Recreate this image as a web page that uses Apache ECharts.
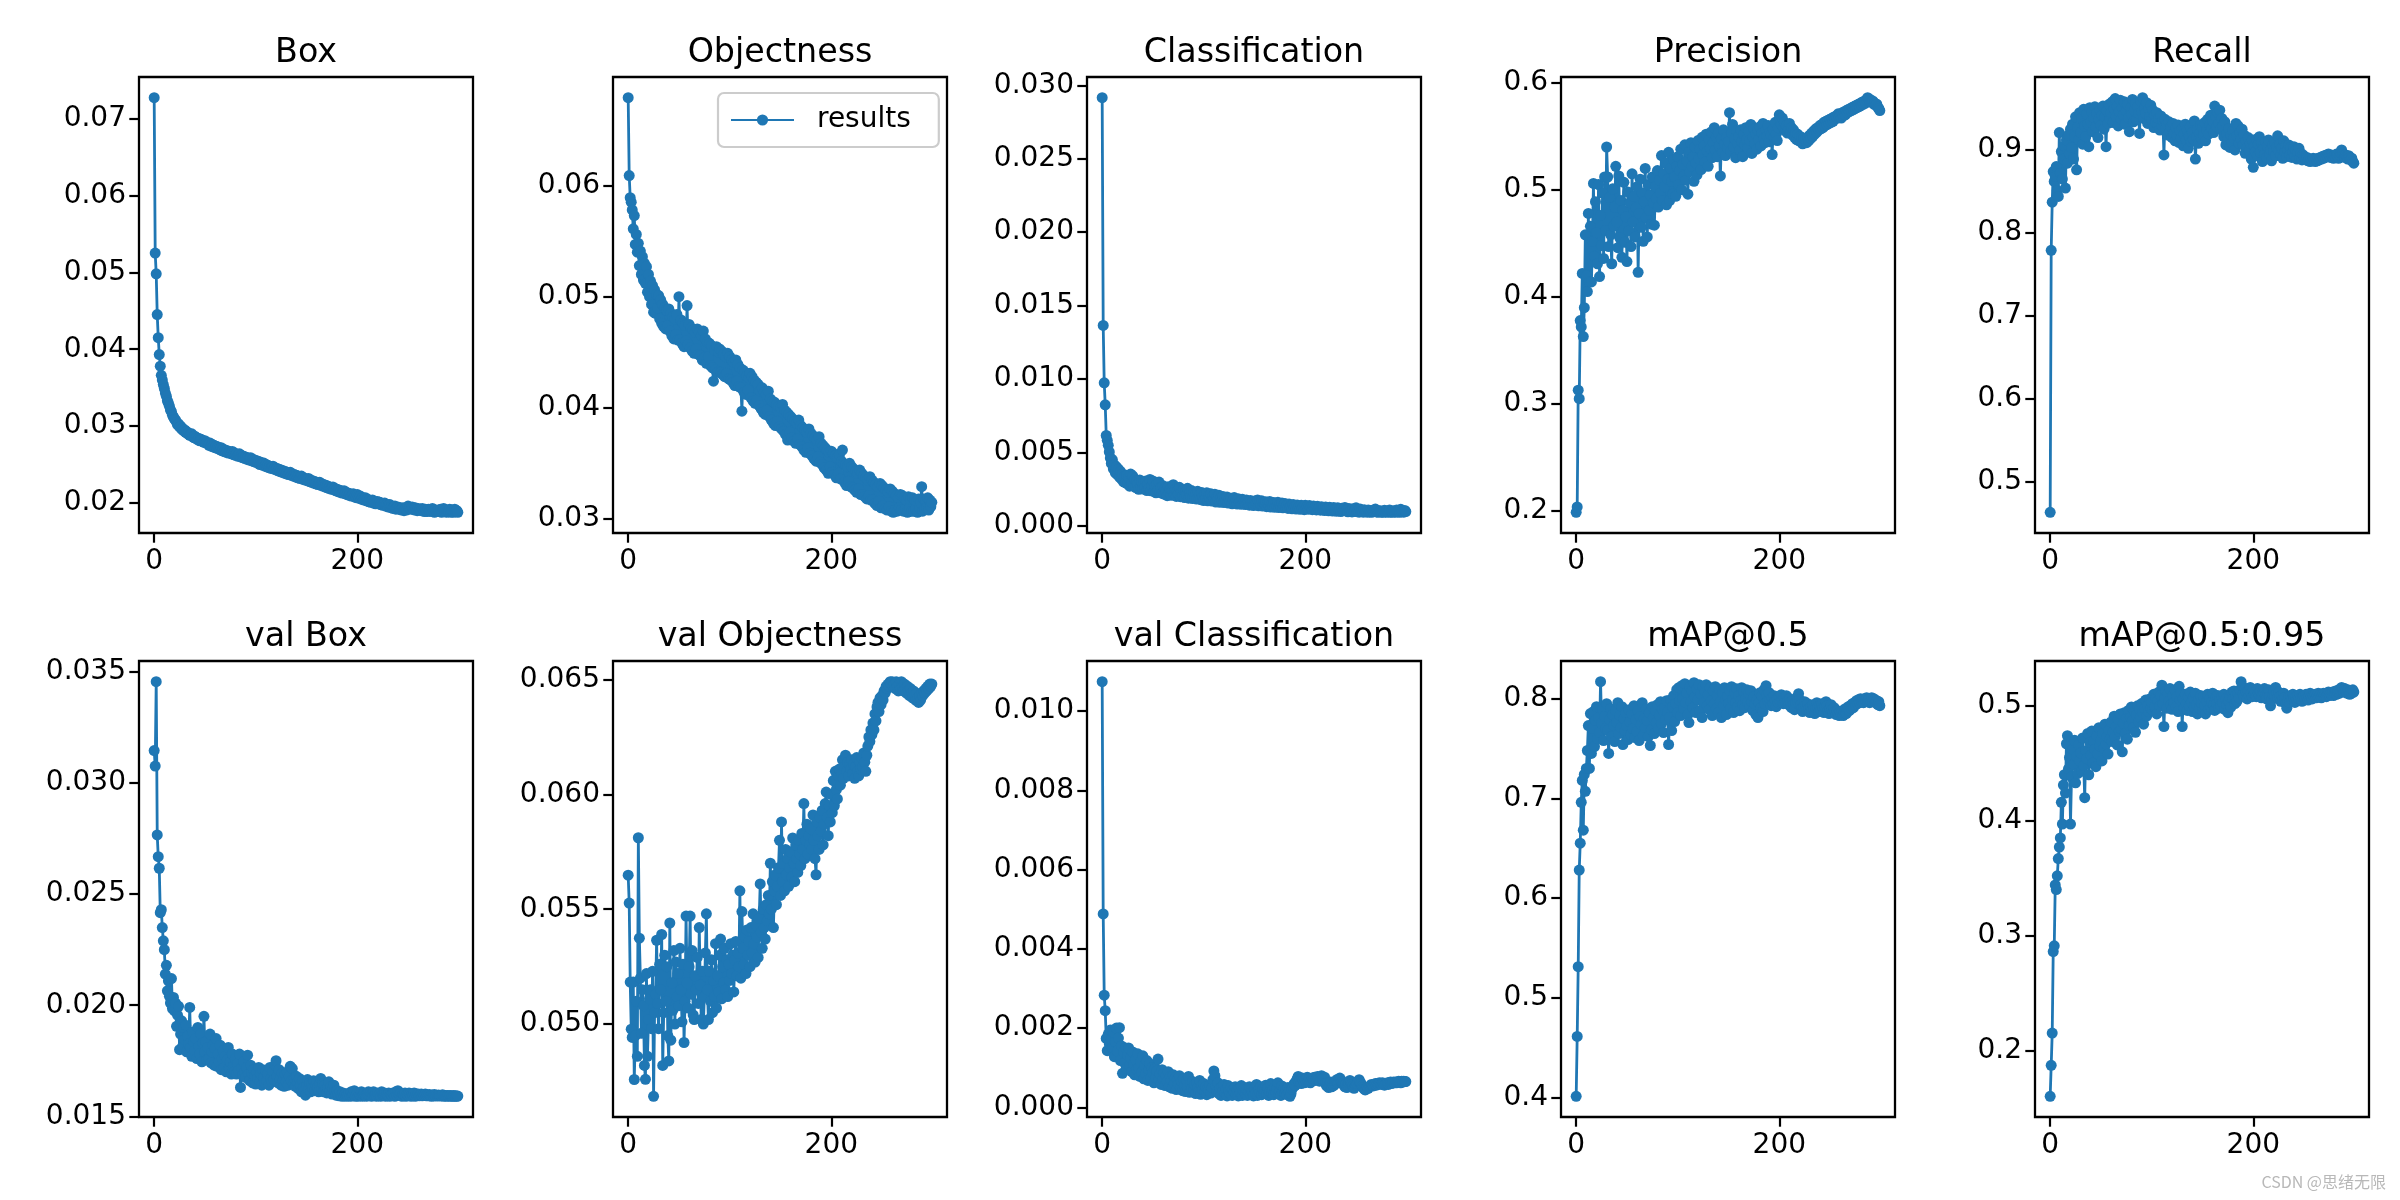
<!DOCTYPE html>
<html><head><meta charset="utf-8">
<script src="https://cdn.jsdelivr.net/npm/echarts@6/dist/echarts.min.js"></script>
<style>html,body{margin:0;padding:0;background:#fff}#c{width:2400px;height:1200px}</style>
</head><body><div id="c"></div>
<script>
const boxLoss = [
.0727,.0525,.0498,.0445,.0415,.0393,.0378,.0366,.0360,.0354,
.0349,.0343,.0339,.0333,.0330,.0326,.0321,.0319,.0314,.0312,
.0309,.0308,.0305,.0302,.0303,.0299,.0300,.0296,.0297,.0294,
.0295,.0292,.0293,.0290,.0291,.0288,.0289,.0290,.0286,.0285,
.0287,.0284,.0285,.0282,.0284,.0281,.0283,.0282,.0280,.0279,
.0281,.0278,.0279,.0277,.0275,.0278,.0274,.0276,.0273,.0275,
.0272,.0274,.0271,.0273,.0270,.0269,.0272,.0268,.0270,.0267,
.0269,.0266,.0268,.0265,.0267,.0266,.0264,.0267,.0263,.0265,
.0262,.0264,.0261,.0263,.0264,.0260,.0262,.0259,.0261,.0258,
.0260,.0257,.0259,.0256,.0258,.0259,.0255,.0257,.0254,.0256,
.0253,.0255,.0252,.0254,.0250,.0253,.0251,.0249,.0252,.0248,
.0250,.0247,.0249,.0246,.0248,.0245,.0247,.0248,.0244,.0246,
.0243,.0245,.0242,.0244,.0241,.0243,.0240,.0242,.0239,.0241,
.0238,.0240,.0237,.0239,.0240,.0236,.0238,.0235,.0237,.0234,
.0236,.0233,.0235,.0232,.0234,.0235,.0231,.0233,.0230,.0232,
.0231,.0229,.0232,.0228,.0230,.0227,.0229,.0226,.0228,.0225,
.0227,.0224,.0226,.0227,.0223,.0225,.0222,.0224,.0221,.0223,
.0220,.0222,.0219,.0221,.0218,.0220,.0221,.0217,.0219,.0216,
.0218,.0215,.0217,.0214,.0216,.0213,.0215,.0216,.0212,.0214,
.0211,.0213,.0210,.0212,.0209,.0211,.0212,.0208,.0210,.0207,
.0211,.0208,.0206,.0209,.0205,.0207,.0204,.0206,.0207,.0203,
.0205,.0202,.0204,.0201,.0203,.0204,.0200,.0202,.0199,.0201,
.0202,.0199,.0201,.0198,.0200,.0197,.0199,.0200,.0196,.0198,
.0195,.0197,.0198,.0194,.0196,.0193,.0195,.0196,.0192,.0194,
.0195,.0192,.0194,.0191,.0193,.0194,.0190,.0192,.0193,.0191,
.0196,.0193,.0194,.0192,.0195,.0193,.0191,.0194,.0192,.0190,
.0193,.0191,.0192,.0190,.0193,.0191,.0189,.0192,.0190,.0189,
.0192,.0190,.0191,.0189,.0193,.0190,.0188,.0191,.0189,.0190,
.0191,.0189,.0192,.0188,.0190,.0193,.0189,.0191,.0188,.0190,
.0189,.0192,.0188,.0191,.0189,.0188,.0192,.0189,.0190,.0188];

const objLoss = [
.0679,.0609,.0589,.0585,.0578,.0561,.0573,.0547,.0556,.0540,
.0548,.0528,.0541,.0520,.0536,.0515,.0530,.0512,.0527,.0504,
.0520,.0500,.0514,.0493,.0510,.0486,.0506,.0485,.0502,.0490,
.0501,.0480,.0497,.0476,.0493,.0473,.0490,.0471,.0488,.0474,
.0489,.0469,.0485,.0465,.0482,.0462,.0480,.0466,.0484,.0461,
.0500,.0461,.0479,.0458,.0476,.0455,.0474,.0460,.0492,.0457,
.0475,.0454,.0472,.0451,.0470,.0449,.0468,.0453,.0471,.0448,
.0468,.0447,.0465,.0443,.0469,.0445,.0462,.0440,.0459,.0446,
.0458,.0438,.0456,.0436,.0424,.0452,.0434,.0455,.0432,.0450,
.0453,.0432,.0451,.0430,.0448,.0428,.0446,.0431,.0449,.0426,
.0446,.0425,.0443,.0423,.0441,.0420,.0443,.0424,.0439,.0419,
.0436,.0418,.0397,.0434,.0414,.0432,.0412,.0429,.0416,.0427,
.0431,.0409,.0428,.0406,.0425,.0404,.0423,.0407,.0421,.0402,
.0415,.0399,.0418,.0396,.0414,.0394,.0412,.0398,.0415,.0392,
.0408,.0389,.0406,.0386,.0405,.0384,.0403,.0388,.0401,.0383,
.0400,.0381,.0403,.0379,.0398,.0376,.0396,.0371,.0394,.0378,
.0392,.0373,.0390,.0370,.0388,.0368,.0386,.0372,.0389,.0367,
.0384,.0365,.0382,.0362,.0380,.0360,.0378,.0364,.0381,.0359,
.0377,.0357,.0375,.0354,.0373,.0352,.0371,.0356,.0374,.0351,
.0368,.0349,.0366,.0346,.0364,.0344,.0362,.0341,.0360,.0347,
.0361,.0342,.0359,.0340,.0357,.0337,.0355,.0341,.0358,.0336,
.0352,.0362,.0350,.0333,.0349,.0330,.0347,.0334,.0350,.0329,
.0347,.0328,.0345,.0326,.0343,.0324,.0341,.0327,.0344,.0322,
.0341,.0322,.0339,.0320,.0337,.0318,.0335,.0321,.0338,.0317,
.0335,.0317,.0333,.0314,.0331,.0312,.0329,.0316,.0332,.0310,
.0330,.0312,.0328,.0309,.0326,.0308,.0324,.0311,.0327,.0307,
.0325,.0306,.0323,.0308,.0321,.0307,.0319,.0310,.0322,.0308,
.0321,.0307,.0319,.0309,.0317,.0306,.0320,.0310,.0318,.0307,
.0319,.0307,.0317,.0309,.0316,.0306,.0318,.0310,.0315,.0329,
.0307,.0318,.0309,.0316,.0310,.0319,.0308,.0317,.0311,.0315];

const clsLoss = [
.02916,.01365,.00974,.00824,.00615,.00582,.00548,.00503,.00462,.00425,
.00451,.00388,.00415,.00360,.00402,.00348,.00385,.00332,.00370,.00318,
.00352,.00300,.00338,.00292,.00345,.00285,.00328,.00270,.00352,.00288,
.00340,.00272,.00318,.00260,.00305,.00282,.00248,.00312,.00265,.00298,
.00250,.00296,.00262,.00305,.00240,.00284,.00255,.00316,.00238,.00275,
.00305,.00232,.00270,.00225,.00282,.00240,.00298,.00228,.00262,.00220,
.00272,.00215,.00258,.00236,.00205,.00266,.00222,.00250,.00208,.00245,
.00280,.00210,.00248,.00200,.00238,.00215,.00262,.00198,.00232,.00205,
.00245,.00192,.00230,.00210,.00255,.00188,.00222,.00198,.00240,.00185,
.00228,.00195,.00218,.00182,.00235,.00190,.00212,.00178,.00226,.00196,
.00172,.00215,.00186,.00225,.00170,.00205,.00182,.00218,.00168,.00200,
.00185,.00215,.00162,.00198,.00176,.00208,.00160,.00192,.00172,.00200,
.00158,.00190,.00168,.00196,.00155,.00182,.00164,.00188,.00150,.00178,
.00192,.00156,.00176,.00148,.00184,.00160,.00172,.00146,.00180,.00158,
.00170,.00145,.00176,.00152,.00165,.00140,.00172,.00150,.00162,.00138,
.00168,.00145,.00158,.00176,.00136,.00160,.00142,.00170,.00134,.00156,
.00148,.00164,.00130,.00152,.00140,.00166,.00128,.00150,.00138,.00158,
.00126,.00150,.00135,.00160,.00124,.00146,.00132,.00155,.00122,.00142,
.00152,.00125,.00140,.00118,.00148,.00128,.00138,.00116,.00145,.00126,
.00135,.00114,.00142,.00122,.00132,.00112,.00140,.00120,.00130,.00110,
.00140,.00120,.00132,.00112,.00138,.00122,.00128,.00110,.00135,.00118,
.00128,.00108,.00133,.00115,.00124,.00106,.00130,.00114,.00121,.00104,
.00128,.00110,.00120,.00102,.00126,.00108,.00117,.00100,.00124,.00107,
.00115,.00099,.00122,.00105,.00112,.00097,.00120,.00103,.00110,.00125,
.00101,.00108,.00095,.00118,.00099,.00106,.00094,.00116,.00097,.00104,
.00122,.00096,.00103,.00093,.00114,.00097,.00101,.00093,.00110,.00095,
.00100,.00093,.00108,.00094,.00098,.00092,.00106,.00095,.00097,.00114,
.00094,.00104,.00092,.00097,.00102,.00093,.00096,.00092,.00105,.00094,
.00099,.00092,.00096,.00108,.00093,.00098,.00092,.00102,.00095,.00093,
.00107,.00094,.00098,.00092,.00112,.00095,.00099,.00093,.00104,.00097];

const precision = [
.199,.204,.313,.305,.378,.372,.422,.363,.390,.458,
.420,.405,.478,.414,.466,.414,.452,.506,.438,.489,
.460,.431,.505,.419,.476,.448,.497,.436,.512,.462,
.540,.512,.447,.493,.458,.431,.501,.466,.484,.522,
.470,.446,.513,.455,.490,.437,.481,.507,.451,.475,
.433,.498,.462,.488,.447,.515,.470,.494,.456,.483,
.503,.423,.478,.510,.465,.497,.452,.489,.520,.474,
.456,.505,.481,.495,.468,.512,.488,.467,.503,.492,
.518,.484,.509,.497,.532,.490,.515,.503,.525,.486,
.510,.535,.490,.520,.508,.496,.528,.512,.494,.522,
.531,.505,.518,.538,.500,.524,.513,.542,.509,.527,
.496,.535,.517,.544,.522,.531,.508,.540,.525,.514,
.546,.529,.538,.519,.549,.533,.541,.526,.552,.536,
.522,.547,.539,.554,.530,.544,.558,.537,.549,.531,
.553,.541,.513,.548,.535,.556,.543,.532,.549,.539,
.545,.572,.536,.553,.561,.540,.548,.530,.555,.543,
.550,.537,.556,.545,.531,.552,.542,.558,.547,.539,
.555,.546,.561,.534,.549,.557,.543,.552,.538,.556,
.547,.559,.541,.553,.562,.548,.544,.556,.550,.560,
.545,.554,.551,.533,.557,.549,.563,.552,.546,.558,
.570,.566,.561,.567,.558,.563,.555,.560,.553,.557,
.562,.554,.558,.551,.556,.549,.553,.547,.552,.546,
.550,.545,.549,.543,.548,.544,.547,.544,.549,.546,
.551,.548,.553,.550,.555,.552,.557,.554,.558,.556,
.560,.557,.561,.558,.563,.560,.564,.561,.565,.562,
.566,.563,.567,.564,.568,.566,.569,.567,.571,.568,
.570,.567,.572,.569,.573,.570,.574,.572,.575,.573,
.576,.574,.577,.575,.578,.576,.579,.577,.580,.578,
.581,.579,.582,.580,.583,.581,.584,.586,.585,.583,
.584,.582,.583,.580,.581,.579,.580,.577,.576,.574];

const recall = [
.463,.779,.837,.874,.862,.868,.880,.851,.844,.921,
.872,.898,.865,.889,.905,.854,.912,.884,.918,.896,
.925,.903,.931,.889,.916,.940,.876,.927,.912,.945,
.921,.938,.907,.949,.929,.916,.943,.931,.904,.951,
.934,.946,.922,.939,.952,.928,.944,.915,.937,.948,
.930,.942,.953,.925,.940,.904,.947,.932,.955,.938,
.945,.958,.933,.949,.962,.940,.953,.929,.946,.960,
.937,.951,.942,.958,.931,.947,.955,.939,.922,.950,
.943,.961,.934,.948,.956,.937,.952,.944,.920,.959,
.946,.963,.938,.951,.944,.957,.932,.949,.940,.954,
.936,.948,.927,.942,.933,.945,.930,.938,.924,.941,
.929,.935,.894,.937,.926,.931,.918,.934,.922,.928,
.915,.932,.920,.911,.927,.917,.930,.909,.923,.914,
.926,.905,.919,.931,.912,.924,.902,.917,.928,.910,
.921,.913,.935,.889,.916,.925,.908,.920,.930,.914,
.927,.918,.933,.911,.924,.937,.919,.930,.942,.926,
.935,.921,.953,.940,.928,.945,.932,.948,.925,.938,
.929,.916,.934,.906,.920,.912,.926,.903,.918,.909,
.923,.914,.900,.932,.917,.929,.908,.921,.913,.925,
.906,.918,.896,.911,.903,.915,.899,.908,.889,.912,
.879,.905,.898,.913,.893,.907,.916,.897,.909,.886,
.902,.894,.910,.891,.904,.912,.895,.900,.887,.906,
.898,.909,.893,.903,.917,.899,.907,.894,.902,.890,
.911,.897,.905,.892,.900,.906,.894,.903,.891,.898,
.904,.893,.900,.889,.897,.902,.890,.896,.888,.894,
.892,.890,.888,.891,.887,.889,.886,.888,.887,.890,
.888,.886,.889,.887,.890,.888,.891,.889,.892,.890,
.893,.891,.894,.892,.895,.893,.891,.894,.892,.890,
.893,.891,.895,.893,.890,.894,.897,.900,.896,.893,
.891,.894,.892,.889,.893,.891,.888,.890,.886,.884];

const valBoxLoss = [
.03147,.03077,.03457,.02767,.02669,.02617,.02417,.02430,.02350,.02290,
.02250,.02140,.02180,.02065,.02110,.02040,.02010,.02120,.01985,.02035,
.01975,.02010,.01905,.01955,.01995,.01800,.01870,.01930,.01815,.01900,
.01845,.01910,.01790,.01860,.01825,.01990,.01810,.01770,.01880,.01835,
.01795,.01850,.01760,.01900,.01815,.01780,.01870,.01745,.01830,.01950,
.01790,.01835,.01755,.01810,.01760,.01870,.01740,.01790,.01820,.01730,
.01805,.01850,.01725,.01780,.01745,.01820,.01710,.01760,.01795,.01720,
.01770,.01700,.01755,.01810,.01715,.01745,.01690,.01780,.01725,.01700,
.01760,.01690,.01735,.01705,.01780,.01630,.01720,.01685,.01745,.01700,
.01675,.01720,.01775,.01690,.01660,.01730,.01695,.01650,.01710,.01680,
.01645,.01700,.01670,.01720,.01655,.01690,.01640,.01710,.01675,.01650,
.01705,.01660,.01690,.01640,.01720,.01670,.01655,.01700,.01665,.01730,
.01750,.01680,.01650,.01710,.01665,.01640,.01695,.01660,.01635,.01690,
.01655,.01700,.01640,.01680,.01725,.01660,.01715,.01645,.01670,.01635,
.01680,.01650,.01625,.01670,.01640,.01610,.01660,.01630,.01615,.01595,
.01640,.01665,.01620,.01650,.01610,.01645,.01625,.01660,.01615,.01640,
.01655,.01630,.01610,.01650,.01670,.01625,.01645,.01610,.01640,.01620,
.01605,.01630,.01655,.01615,.01635,.01600,.01625,.01640,.01610,.01595,
.01615,.01600,.01592,.01610,.01595,.01590,.01605,.01592,.01600,.01590,
.01595,.01592,.01605,.01590,.01610,.01592,.01600,.01615,.01590,.01595,
.01605,.01590,.01600,.01595,.01610,.01590,.01600,.01605,.01595,.01590,
.01600,.01610,.01595,.01605,.01590,.01600,.01610,.01595,.01600,.01590,
.01605,.01595,.01600,.01590,.01610,.01600,.01595,.01605,.01590,.01600,
.01595,.01605,.01590,.01600,.01595,.01605,.01600,.01590,.01610,.01595,
.01615,.01600,.01595,.01605,.01590,.01600,.01595,.01605,.01590,.01600,
.01595,.01605,.01600,.01590,.01600,.01595,.01605,.01590,.01600,.01595,
.01600,.01592,.01596,.01600,.01592,.01598,.01594,.01600,.01592,.01596,
.01592,.01598,.01594,.01590,.01596,.01592,.01598,.01591,.01595,.01592,
.01596,.01591,.01594,.01592,.01597,.01590,.01594,.01592,.01590,.01593,
.01592,.01590,.01594,.01591,.01590,.01593,.01590,.01592,.01590,.01591];

const valObjLoss = [
.05648,.05527,.05183,.04978,.04942,.05183,.04759,.04950,.05100,.04860,
.05811,.05374,.05200,.04960,.05150,.05080,.04820,.04760,.05220,.04860,
.05020,.05110,.05150,.04980,.05230,.04686,.05050,.05130,.05365,.05090,
.04980,.05260,.05150,.05390,.04820,.05050,.05300,.05100,.05250,.04950,
.04840,.05440,.04930,.05180,.05060,.05320,.05000,.05270,.05120,.05220,
.05080,.05330,.05150,.05010,.05260,.04920,.05100,.05470,.05180,.05070,
.05250,.05470,.05130,.05320,.05040,.05020,.05210,.05150,.05290,.05090,
.05420,.05170,.05020,.05230,.05000,.05120,.05310,.05480,.05150,.05020,
.05230,.05100,.05280,.05050,.05190,.05120,.05350,.05070,.05210,.05140,
.05300,.05370,.05110,.05250,.05180,.05330,.05150,.05280,.05120,.05260,
.05190,.05350,.05220,.05300,.05140,.05280,.05360,.05210,.05310,.05250,
.05580,.05200,.05490,.05330,.05260,.05380,.05220,.05410,.05300,.05360,
.05250,.05420,.05310,.05480,.05350,.05270,.05430,.05380,.05290,.05460,
.05610,.05400,.05330,.05500,.05420,.05370,.05520,.05450,.05560,.05480,
.05700,.05500,.05620,.05420,.05580,.05650,.05520,.05600,.05680,.05800,
.05560,.05880,.05620,.05700,.05580,.05760,.05650,.05720,.05600,.05680,
.05750,.05640,.05810,.05700,.05620,.05780,.05720,.05660,.05800,.05740,
.05690,.05830,.05760,.05960,.05720,.05800,.05870,.05740,.05820,.05780,
.05850,.05760,.05910,.05800,.05720,.05650,.05880,.05820,.05760,.05900,
.05840,.05930,.05780,.05870,.05960,.06010,.05900,.05820,.05950,.05880,
.06000,.05920,.06060,.05950,.06100,.06020,.05980,.06080,.06110,.06040,
.06090,.06150,.06070,.06120,.06170,.06100,.06140,.06080,.06130,.06110,
.06150,.06090,.06130,.06070,.06120,.06160,.06100,.06080,.06140,.06110,
.06160,.06120,.06180,.06140,.06100,.06170,.06210,.06250,.06230,.06280,
.06260,.06310,.06280,.06350,.06320,.06380,.06400,.06360,.06420,.06390,
.06430,.06410,.06450,.06440,.06470,.06460,.06480,.06470,.06490,.06480,
.06490,.06470,.06480,.06460,.06490,.06470,.06450,.06480,.06460,.06490,
.06470,.06450,.06480,.06460,.06440,.06470,.06450,.06430,.06460,.06440,
.06420,.06450,.06430,.06410,.06440,.06420,.06400,.06430,.06410,.06440,
.06430,.06450,.06440,.06460,.06450,.06470,.06460,.06480,.06470,.06480];

const valClsLoss = [
.01074,.00488,.00283,.00244,.00174,.00143,.00185,.00160,.00195,.00172,
.00150,.00190,.00128,.00165,.00200,.00142,.00175,.00201,.00118,.00155,
.00086,.00140,.00112,.00150,.00098,.00132,.00150,.00105,.00125,.00090,
.00140,.00110,.00082,.00120,.00095,.00135,.00100,.00078,.00115,.00088,
.00130,.00072,.00105,.00085,.00118,.00068,.00095,.00110,.00075,.00100,
.00088,.00062,.00098,.00075,.00092,.00122,.00070,.00085,.00058,.00095,
.00072,.00088,.00055,.00080,.00065,.00090,.00052,.00078,.00068,.00048,
.00082,.00060,.00075,.00045,.00070,.00058,.00080,.00050,.00066,.00042,
.00072,.00055,.00040,.00068,.00050,.00078,.00038,.00060,.00048,.00065,
.00045,.00058,.00035,.00062,.00050,.00040,.00068,.00033,.00055,.00045,
.00060,.00038,.00052,.00032,.00048,.00042,.00056,.00036,.00050,.00070,
.00092,.00080,.00055,.00040,.00062,.00035,.00048,.00030,.00052,.00042,
.00058,.00036,.00046,.00029,.00055,.00040,.00034,.00050,.00030,.00045,
.00038,.00052,.00032,.00044,.00029,.00048,.00036,.00055,.00030,.00042,
.00050,.00034,.00046,.00030,.00040,.00052,.00032,.00045,.00038,.00029,
.00048,.00035,.00058,.00030,.00044,.00038,.00052,.00032,.00046,.00036,
.00042,.00056,.00034,.00048,.00030,.00040,.00060,.00036,.00044,.00032,
.00050,.00038,.00046,.00062,.00035,.00042,.00030,.00054,.00040,.00048,
.00036,.00044,.00032,.00050,.00040,.00028,.00035,.00046,.00052,.00060,
.00055,.00066,.00072,.00078,.00064,.00070,.00060,.00074,.00068,.00062,
.00070,.00064,.00076,.00066,.00072,.00062,.00068,.00074,.00070,.00076,
.00068,.00072,.00078,.00070,.00066,.00074,.00080,.00072,.00068,.00076,
.00060,.00054,.00062,.00050,.00058,.00064,.00052,.00060,.00055,.00062,
.00066,.00070,.00062,.00068,.00074,.00070,.00064,.00060,.00056,.00052,
.00058,.00050,.00056,.00062,.00068,.00064,.00058,.00054,.00048,.00052,
.00056,.00060,.00066,.00070,.00064,.00060,.00054,.00050,.00046,.00044,
.00046,.00050,.00048,.00052,.00054,.00058,.00056,.00054,.00058,.00060,
.00056,.00060,.00058,.00062,.00060,.00058,.00062,.00060,.00056,.00058,
.00060,.00062,.00058,.00062,.00064,.00060,.00062,.00064,.00062,.00064,
.00062,.00064,.00066,.00064,.00062,.00066,.00064,.00066,.00065,.00065];

const map50 = [
.401,.461,.531,.628,.655,.696,.718,.668,.724,.707,
.730,.748,.773,.730,.785,.745,.770,.787,.752,.778,
.792,.760,.781,.766,.817,.775,.789,.758,.782,.770,
.795,.768,.745,.779,.790,.762,.784,.773,.757,.788,
.776,.796,.765,.783,.771,.792,.754,.780,.768,.786,
.773,.759,.789,.777,.764,.785,.770,.793,.761,.779,
.767,.788,.758,.782,.774,.796,.763,.780,.771,.790,
.778,.762,.786,.753,.769,.792,.781,.765,.788,.776,
.794,.770,.783,.797,.775,.789,.766,.791,.779,.798,
.786,.754,.781,.799,.768,.792,.803,.777,.795,.809,
.786,.811,.798,.783,.813,.800,.790,.815,.796,.806,
.784,.776,.812,.797,.808,.791,.816,.802,.786,.810,
.799,.814,.788,.805,.781,.812,.796,.807,.814,.793,
.804,.789,.811,.798,.783,.808,.795,.812,.790,.803,
.786,.809,.797,.781,.806,.793,.811,.799,.784,.802,
.795,.808,.790,.812,.799,.786,.806,.796,.810,.792,
.803,.788,.798,.811,.794,.807,.791,.800,.809,.796,
.805,.793,.808,.797,.788,.802,.795,.784,.799,.781,
.796,.806,.791,.803,.787,.809,.795,.813,.804,.798,
.806,.799,.793,.801,.795,.803,.798,.792,.800,.796,
.802,.797,.804,.799,.795,.801,.797,.803,.798,.794,
.800,.796,.791,.798,.794,.789,.796,.801,.797,.805,
.799,.794,.790,.787,.792,.797,.793,.789,.795,.790,
.786,.792,.788,.794,.790,.785,.791,.796,.792,.787,
.793,.789,.795,.791,.786,.792,.797,.793,.788,.785,
.790,.794,.789,.786,.791,.787,.784,.788,.785,.783,
.787,.784,.788,.783,.786,.790,.785,.789,.792,.788,
.793,.790,.795,.791,.796,.794,.798,.795,.799,.796,
.800,.797,.799,.796,.800,.798,.801,.797,.799,.796,
.798,.801,.797,.800,.799,.796,.798,.794,.797,.793];

const map5095 = [
.160,.187,.215,.286,.291,.344,.340,.352,.367,.377,
.385,.416,.397,.431,.440,.424,.467,.474,.445,.455,
.397,.438,.462,.449,.470,.433,.456,.441,.466,.452,
.459,.443,.472,.448,.420,.461,.454,.476,.440,.468,
.457,.478,.450,.469,.462,.447,.474,.458,.481,.465,
.470,.452,.476,.463,.484,.467,.473,.458,.479,.471,
.486,.469,.477,.491,.473,.482,.466,.488,.478,.493,
.480,.460,.485,.494,.476,.489,.471,.496,.483,.490,
.499,.487,.481,.495,.477,.492,.500,.486,.497,.490,
.502,.494,.484,.498,.505,.491,.500,.495,.506,.498,
.503,.496,.510,.499,.507,.493,.504,.512,.500,.509,
.518,.502,.482,.507,.513,.498,.510,.504,.515,.501,
.497,.509,.503,.514,.499,.508,.495,.517,.505,.511,
.482,.506,.498,.510,.502,.496,.508,.500,.512,.503,
.495,.507,.499,.511,.501,.493,.505,.498,.509,.502,
.496,.508,.500,.493,.504,.510,.497,.506,.499,.503,
.511,.501,.496,.507,.502,.509,.498,.505,.500,.508,
.503,.510,.497,.506,.501,.494,.504,.508,.499,.512,
.506,.513,.502,.509,.504,.511,.507,.514,.521,.517,
.510,.508,.515,.512,.506,.513,.509,.516,.511,.508,
.514,.510,.512,.508,.515,.511,.509,.513,.507,.510,
.512,.515,.509,.506,.511,.514,.508,.500,.505,.510,
.513,.509,.516,.511,.507,.512,.508,.504,.509,.506,
.511,.507,.502,.498,.504,.508,.503,.509,.506,.510,
.507,.503,.508,.505,.509,.506,.510,.507,.504,.508,
.509,.506,.510,.507,.505,.508,.511,.508,.506,.509,
.508,.510,.507,.509,.511,.508,.510,.507,.509,.511,
.509,.511,.508,.510,.512,.509,.511,.510,.512,.509,
.511,.513,.510,.512,.514,.511,.513,.516,.514,.512,
.515,.513,.511,.514,.512,.510,.513,.511,.514,.512];

const panelTitles = ['Box','Objectness','Classification','Precision','Recall',
  'val Box','val Objectness','val Classification','mAP@0.5','mAP@0.5:0.95'];
const panelSeries = [boxLoss, objLoss, clsLoss, precision, recall,
  valBoxLoss, valObjLoss, valClsLoss, map50, map5095];
const yTicks = [
  [0.02,0.03,0.04,0.05,0.06,0.07],
  [0.03,0.04,0.05,0.06],
  [0.000,0.005,0.010,0.015,0.020,0.025,0.030],
  [0.2,0.3,0.4,0.5,0.6],
  [0.5,0.6,0.7,0.8,0.9],
  [0.015,0.020,0.025,0.030,0.035],
  [0.050,0.055,0.060,0.065],
  [0.000,0.002,0.004,0.006,0.008,0.010],
  [0.4,0.5,0.6,0.7,0.8],
  [0.2,0.3,0.4,0.5]
];
const yDecimals = [2,2,3,1,1,3,3,3,1,1];
const xTicks = [0,200];
const legendLabel = 'results';
const watermark = 'CSDN @思绪无限';

const FONT = 'DejaVu Sans';
const BLUE = '#1f77b4';
const colLeft = [139, 613, 1087, 1561, 2035];
const rowTop = [77, 661];
const W = 334, H = 456;

const chart = echarts.init(document.getElementById('c'));
const grids = [], xAxes = [], yAxes = [], series = [], graphics = [];
panelSeries.forEach((vals, i) => {
  const r = Math.floor(i / 5), c = i % 5;
  grids.push({left: colLeft[c], top: rowTop[r], width: W, height: H,
    show: true, borderColor: '#000', borderWidth: 2.3, backgroundColor: 'transparent'});
  const n = vals.length;
  xAxes.push({type: 'value', gridIndex: i, position: 'bottom', min: -0.05 * (n - 1), max: (n - 1) * 1.05,
    axisLine: {show: false, onZero: false}, splitLine: {show: false},
    axisTick: {show: true, inside: false, length: 9.7, lineStyle: {color: '#000', width: 2.2}, customValues: xTicks},
    axisLabel: {show: true, margin: 15, fontSize: 28, fontFamily: FONT, color: '#000', customValues: xTicks,
      formatter: v => String(v)}});
  const d = yDecimals[i];
  yAxes.push({type: 'value', gridIndex: i, position: 'left', scale: true,
    min: v => v.min - 0.05 * (v.max - v.min), max: v => v.max + 0.05 * (v.max - v.min),
    axisLine: {show: false, onZero: false}, splitLine: {show: false},
    axisTick: {show: true, inside: false, length: 9.7, lineStyle: {color: '#000', width: 2.2}, customValues: yTicks[i]},
    axisLabel: {show: true, margin: 13, fontSize: 28, fontFamily: FONT, color: '#000', customValues: yTicks[i],
      formatter: v => Number(v).toFixed(d)}});
  series.push({type: 'line', name: legendLabel, xAxisIndex: i, yAxisIndex: i,
    data: vals.map((v, k) => [k, v]),
    symbol: 'circle', symbolSize: 11, showSymbol: true, showAllSymbol: true,
    itemStyle: {color: BLUE}, lineStyle: {color: BLUE, width: 2.8},
    emphasis: {disabled: true}, animation: false, clip: false});
  graphics.push({type: 'text', x: colLeft[c] + W / 2, y: rowTop[r] - 7.5,
    style: {text: panelTitles[i], fontSize: 33.3, fontFamily: FONT, fill: '#000',
      align: 'center', verticalAlign: 'bottom', textAlign: 'center', textVerticalAlign: 'bottom'}});
});
graphics.push({type: 'text', x: 2386, y: 1182,
  style: {text: watermark, fontSize: 16, fontFamily: 'Noto Sans CJK SC', fill: '#b8b8b8',
    align: 'right', verticalAlign: 'middle', textAlign: 'right', textVerticalAlign: 'middle'}});

chart.setOption({
  animation: false,
  backgroundColor: '#fff',
  grid: grids, xAxis: xAxes, yAxis: yAxes, series: series,
  legend: {data: [legendLabel], left: 718, top: 93, padding: [13, 28, 13, 12],
    borderColor: '#cccccc', borderWidth: 2.2, borderRadius: 6, backgroundColor: 'rgba(255,255,255,0.8)',
    itemWidth: 63, itemHeight: 14, selectedMode: false,
    textStyle: {fontSize: 28, fontFamily: FONT, color: '#000', padding: [0, 0, 0, 18]}},
  graphic: graphics
});
</script></body></html>
